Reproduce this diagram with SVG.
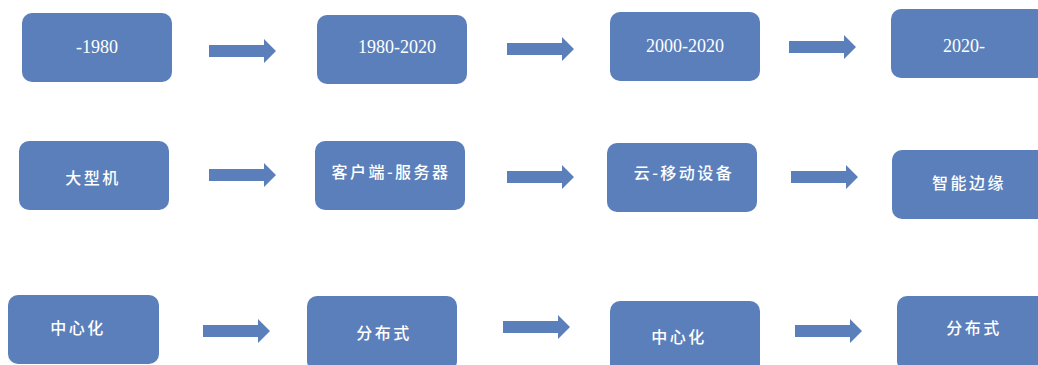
<svg xmlns="http://www.w3.org/2000/svg" width="1038" height="365" viewBox="0 0 1038 365">
<defs>
<style>
.box{fill:#5B7FBA;}
.arr{fill:#5B7FBA;}
.num{font-family:"Liberation Serif","Times New Roman",serif;font-size:18px;fill:#fff;text-anchor:middle;}
.cjk{font-family:"Noto Sans CJK SC","Noto Sans",sans-serif;font-size:16px;font-weight:500;fill:#fff;text-anchor:middle;letter-spacing:2.5px;}
</style>
<path id="arrow" d="M0,-6 L55,-6 L55,-12 L67,0 L55,12 L55,6 L0,6 Z"/>
</defs>
<rect width="1038" height="365" fill="#fff"/>
<g id="connectors" class="arr">
<use href="#arrow" x="209" y="51"/>
<use href="#arrow" x="507" y="49"/>
<use href="#arrow" x="789" y="47"/>
<use href="#arrow" x="209" y="175"/>
<use href="#arrow" x="507" y="177"/>
<use href="#arrow" x="791" y="177"/>
<use href="#arrow" x="203" y="331"/>
<use href="#arrow" x="503" y="327"/>
<use href="#arrow" x="795" y="331"/>
</g>
<g id="n1"><rect class="box" x="22" y="13" width="150" height="69" rx="10"/><text class="num" x="97" y="53">-1980</text></g>
<g id="n2"><rect class="box" x="317" y="15" width="150" height="69" rx="10"/><text class="num" x="397" y="53">1980-2020</text></g>
<g id="n3"><rect class="box" x="610" y="12" width="150" height="69" rx="10"/><text class="num" x="685" y="52">2000-2020</text></g>
<g id="n4"><rect class="box" x="891" y="9" width="155" height="69" rx="10"/><text class="num" x="964" y="52">2020-</text></g>
<g id="n5"><rect class="box" x="19" y="141" width="150" height="69" rx="10"/><text class="cjk" x="93" y="184">大型机</text></g>
<g id="n6"><rect class="box" x="315" y="141" width="150" height="69" rx="10"/><text class="cjk" x="391" y="178">客户端-服务器</text></g>
<g id="n7"><rect class="box" x="607" y="143" width="150" height="69" rx="10"/><text class="cjk" x="684" y="179">云-移动设备</text></g>
<g id="n8"><rect class="box" x="892" y="150" width="155" height="69" rx="10"/><text class="cjk" x="969" y="189">智能边缘</text></g>
<g id="n9"><rect class="box" x="8" y="295" width="151" height="69" rx="10"/><text class="cjk" x="78" y="334">中心化</text></g>
<g id="n10"><rect class="box" x="307" y="296" width="150" height="75" rx="10"/><text class="cjk" x="384" y="339">分布式</text></g>
<g id="n11"><rect class="box" x="610" y="301" width="150" height="75" rx="10"/><text class="cjk" x="679" y="343">中心化</text></g>
<g id="n12"><rect class="box" x="897" y="296" width="150" height="75" rx="10"/><text class="cjk" x="974" y="334">分布式</text></g>
</svg>
